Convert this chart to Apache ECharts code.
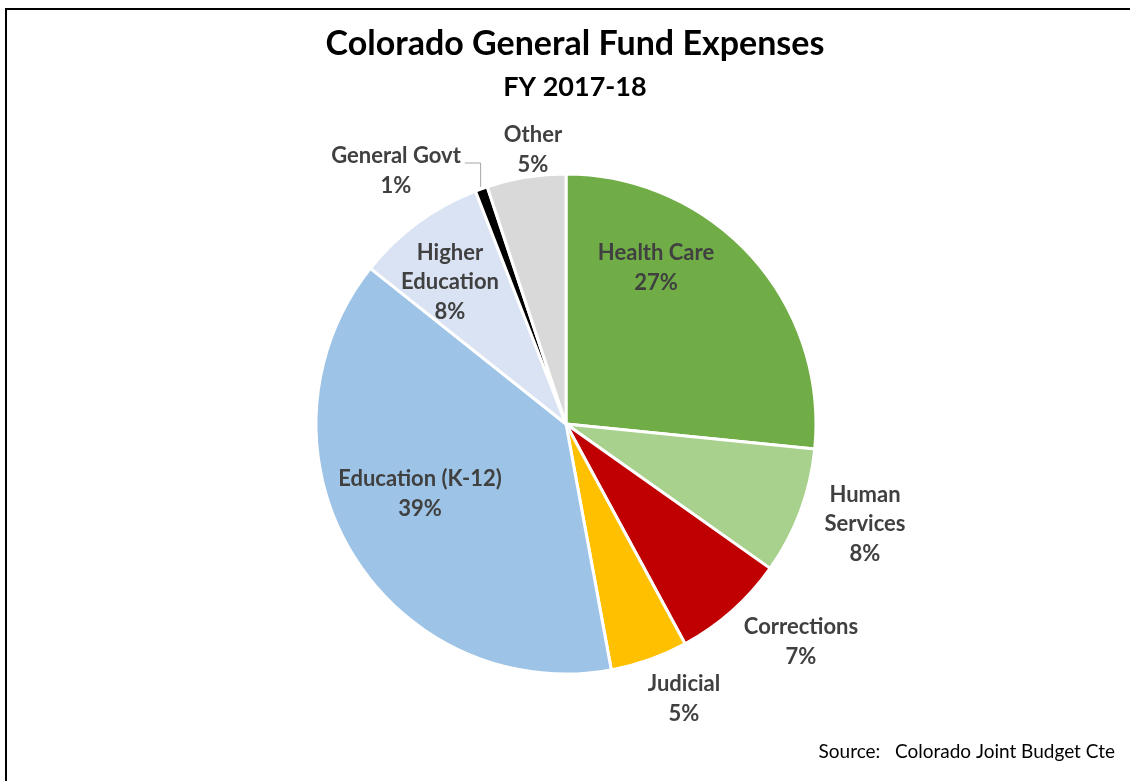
<!DOCTYPE html>
<html>
<head>
<meta charset="utf-8">
<script src="https://cdn.jsdelivr.net/npm/echarts@6/dist/echarts.min.js"></script>
<style>
html,body{margin:0;padding:0;background:#fff;}
#c{width:1130px;height:781px;}
</style>
</head>
<body>
<div id="c"></div>
<script>
// Data
const categories = ['Health Care', 'Human\nServices', 'Corrections', 'Judicial', 'Education (K-12)', 'Higher\nEducation', 'General Govt', 'Other'];
const values = [26.6, 8.2, 7.3, 5.0, 38.6, 8.4, 0.8, 5.1];
const colors = ['#70AD47', '#A9D18E', '#C00000', '#FFC000', '#9DC3E6', '#DAE3F3', '#000000', '#D9D9D9'];

// Layout (label offsets from pie centre, px)
const CX = 566, CY = 424, R = 250;
const labelOffsets = [[90,-156],[299,100],[235,218],[118,275],[-146,70],[-116,-142],[-170,-253],[-33,-274]];
const LEADER_INDEX = 6;

const FONT = 'Lato, "Open Sans", sans-serif';
const chart = echarts.init(document.getElementById('c'), null, {renderer:'canvas'});

const total = values.reduce((a, b) => a + b, 0);
function midAngle(i) { // degrees clockwise from top
  let s = 0;
  for (let k = 0; k < i; k++) s += values[k];
  return (s + values[i] / 2) / total * 360;
}

chart.setOption({
  animation: false,
  backgroundColor: '#fff',
  graphic: [
    {type:'rect', shape:{x:6, y:9, width:1400, height:1200}, style:{fill:'none', stroke:'#000', lineWidth:2}, silent:true},
    {type:'text', x:575, y:44, style:{text:'Colorado General Fund Expenses', font:'bold 34px ' + FONT, fill:'#000', align:'center', verticalAlign:'middle'}},
    {type:'text', x:575, y:87, style:{text:'FY 2017-18', font:'bold 27px ' + FONT, fill:'#000', align:'center', verticalAlign:'middle'}},
    {type:'text', x:1115, y:752, style:{text:'Source:   Colorado Joint Budget Cte', font:'19px ' + FONT, fill:'#000', align:'right', verticalAlign:'middle'}}
  ],
  series: [{
    type: 'pie',
    center: [CX, CY],
    radius: R,
    startAngle: 90,
    clockwise: true,
    avoidLabelOverlap: false,
    itemStyle: {borderColor:'#fff', borderWidth:3},
    label: {
      show: true,
      position: 'outside',
      formatter: p => p.name + '\n' + Math.round(p.percent) + '%',
      fontFamily: FONT,
      fontWeight: 'bold',
      fontSize: 22,
      lineHeight: 29.5,
      color: '#404040',
      align: 'center'
    },
    labelLine: {show:false},
    labelLayout: function (params) {
      const i = params.dataIndex;
      const o = labelOffsets[i];
      const lx = CX + o[0], ly = CY + o[1];
      const res = {x: lx, y: ly, align:'center', verticalAlign:'middle'};
      if (i === LEADER_INDEX) {
        const a = midAngle(i) * Math.PI / 180;
        const px = CX + (R + 2) * Math.sin(a);
        const py = CY - (R + 2) * Math.cos(a);
        const yLine = ly - 8;
        res.labelLinePoints = [[px, py], [px, yLine], [lx + params.labelRect.width / 2 + 4, yLine]];
      }
      return res;
    },
    data: categories.map((c, i) => ({
      name: c,
      value: values[i],
      itemStyle: {color: colors[i]},
      labelLine: i === LEADER_INDEX ? {show:true, length:8, length2:8, lineStyle:{color:'#A6A6A6', width:1}} : {show:false}
    }))
  }]
});
</script>
</body>
</html>
